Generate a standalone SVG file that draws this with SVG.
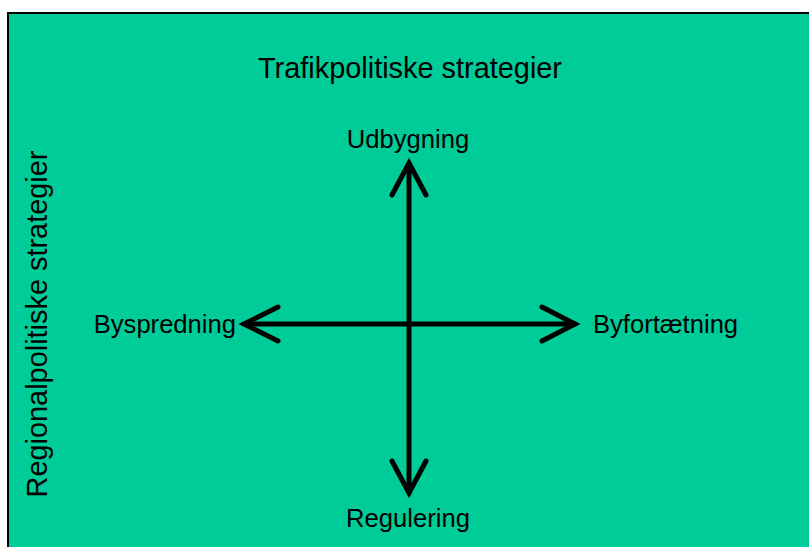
<svg xmlns="http://www.w3.org/2000/svg" width="809" height="547" viewBox="0 0 809 547">
<style>
.t{font-family:"Liberation Sans",Arial,sans-serif;fill:#000}
.l{font-size:25.6px}
.ax{stroke:#000;stroke-width:5;fill:none;stroke-linecap:round;stroke-linejoin:miter}
</style>
<rect x="0" y="0" width="809" height="547" fill="#fff"/>
<rect id="panel" x="8" y="13" width="820" height="560" fill="#00CC99" stroke="#000" stroke-width="2"/>
<g id="connectors">
<line class="ax" x1="409" y1="163" x2="409" y2="493"/>
<line class="ax" x1="244" y1="324" x2="575" y2="324"/>
<polyline class="ax" points="392,195 409,163 426,195"/>
<polyline class="ax" points="392,461 409,493 426,461"/>
<polyline class="ax" points="278,307 244,324 278,341"/>
<polyline class="ax" points="542,307 575,324 542,341"/>
</g>
<g id="title"><text class="t" x="410" y="78" font-size="28.9" text-anchor="middle">Trafikpolitiske strategier</text></g>
<g id="udbygning"><text class="t l" x="408" y="148" text-anchor="middle">Udbygning</text></g>
<g id="byspredning"><text class="t l" x="236" y="333" text-anchor="end">Byspredning</text></g>
<g id="byfortaetning"><text class="t l" x="593" y="333">Byfortætning</text></g>
<g id="regulering"><text class="t l" x="408" y="527" text-anchor="middle">Regulering</text></g>
<g id="regional"><text class="t" transform="translate(47,324) rotate(-90)" font-size="28.9" text-anchor="middle">Regionalpolitiske strategier</text></g>
</svg>
